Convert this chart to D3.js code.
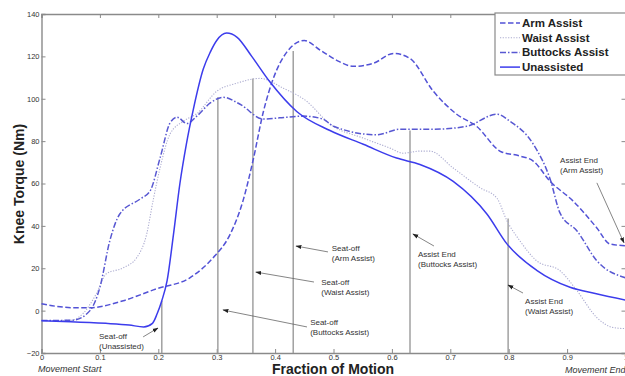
<!DOCTYPE html>
<html>
<head>
<meta charset="utf-8">
<script src="https://d3js.org/d3.v7.min.js"></script>
<style>
  body { margin: 0; background: #fff; }
  svg { display: block; font-family: "Liberation Sans", Arial, sans-serif; }
</style>
</head>
<body>
<svg id="chart" width="625" height="376"></svg>
<script>
// fraction of motion / knee torque (Nm)
let unassistedX = [0, 0.05, 0.11, 0.15, 0.175, 0.19, 0.198, 0.206, 0.215, 0.226, 0.237, 0.248, 0.26, 0.277, 0.289, 0.30, 0.317, 0.335, 0.36, 0.391, 0.437, 0.494, 0.551, 0.608, 0.648, 0.705, 0.763, 0.797, 0.848, 0.905, 0.95, 1.0];
let unassistedY = [-4.8, -5.2, -6, -6.8, -7.7, -6, -1.5, 4.7, 14, 36, 60, 78.5, 95, 114, 122, 127.5, 131, 129, 120, 108, 94, 85, 78.5, 72, 69, 61, 45.5, 31.5, 19, 11, 8, 5];

let armX = [0, 0.054, 0.083, 0.14, 0.197, 0.254, 0.294, 0.323, 0.345, 0.362, 0.38, 0.397, 0.42, 0.45, 0.477, 0.51, 0.534, 0.568, 0.603, 0.631, 0.671, 0.711, 0.745, 0.787, 0.819, 0.842, 0.871, 0.91, 0.951, 0.973, 1.0];
let armY = [3.2, 1.4, 1.4, 4.7, 10.3, 15.5, 25, 36, 51.8, 70.6, 94, 109.6, 122, 127.5, 123, 117.5, 115.3, 116.7, 121.4, 119, 103.5, 92.7, 87, 75, 73, 70.6, 61, 51.8, 39, 31.5, 30.6];

let waistX = [0, 0.05, 0.071, 0.094, 0.111, 0.14, 0.163, 0.18, 0.191, 0.203, 0.22, 0.243, 0.266, 0.3, 0.334, 0.374, 0.414, 0.454, 0.494, 0.551, 0.597, 0.619, 0.648, 0.665, 0.705, 0.751, 0.78, 0.797, 0.819, 0.848, 0.888, 0.917, 0.951, 0.979, 1.0];
let waistY = [-4.7, -4.6, -1.4, 8, 17.4, 20.2, 25, 36, 51.8, 67.3, 83.3, 89.4, 93, 103.5, 107.3, 109.6, 105, 98.8, 88, 81.4, 76.7, 74.3, 75.3, 75.3, 67.3, 58, 53, 42.4, 33, 23.5, 18.8, 9.4, -3.3, -8, -8.5];

let buttocksX = [0, 0.054, 0.083, 0.1, 0.117, 0.134, 0.169, 0.186, 0.203, 0.22, 0.232, 0.249, 0.266, 0.289, 0.311, 0.34, 0.38, 0.408, 0.448, 0.482, 0.5, 0.574, 0.614, 0.671, 0.728, 0.78, 0.802, 0.842, 0.871, 0.888, 0.917, 0.951, 1.0];
let buttocksY = [-4.7, -4.5, 0, 11, 33, 45.6, 52.7, 56.5, 72, 88.5, 91.3, 88.3, 91.8, 98, 100.7, 97.4, 90.4, 91, 91.8, 90.4, 87, 83, 85.6, 85.6, 87, 92.7, 89.4, 78.6, 62, 46, 37.6, 23.5, 15.5];

let seriesNames = ["Arm Assist", "Waist Assist", "Buttocks Assist", "Unassisted"];

// seat-off / assist-end markers: fraction and torque where the marker meets its curve
let eventX = [0.206, 0.302, 0.362, 0.431, 0.631, 0.799];
let eventTop = [4.5, 100.7, 109.6, 122.5, 85, 43.5];

let xTicks = [0, 0.1, 0.2, 0.3, 0.4, 0.5, 0.6, 0.7, 0.8, 0.9, 1];
let xTickLabels = ["0", "0.1", "0.2", "0.3", "0.4", "0.5", "0.6", "0.7", "0.8", "0.9", "1"];
let yTicks = [-20, 0, 20, 40, 60, 80, 100, 120, 140];

// annotation text: [line1, line2, textX, textY, arrowFromX, arrowFromY, arrowToX, arrowToY] in data units
let notes = [
  ["Seat-off", "(Unassisted)", 0.0985, -13.4, 0.174, -12.4, 0.1995, -8.2],
  ["Seat-off", "(Buttocks Assist)", 0.46, -6.8, 0.4546, -7.7, 0.3108, 0.3],
  ["Seat-off", "(Waist Assist)", 0.479, 12.1, 0.4666, 13.5, 0.367, 18.2],
  ["Seat-off", "(Arm Assist)", 0.497, 28.1, 0.4906, 27.7, 0.4358, 30.5],
  ["Assist End", "(Buttocks Assist)", 0.6447, 25.3, 0.672, 30.5, 0.636, 36.2],
  ["Assist End", "(Waist Assist)", 0.828, 3.1, 0.8245, 8.3, 0.7988, 12.1],
  ["Assist End", "(Arm Assist)", 0.888, 69.7, 0.951, 60.3, 0.9974, 32]
];

let svg = d3.select("#chart");
let x = d3.scaleLinear().domain([0, 1]).range([41.5, 625.5]);
let y = d3.scaleLinear().domain([-20, 140]).range([353, 14]);

let defs = svg.append("defs");
defs.append("marker")
    .attr("id", "head")
    .attr("viewBox", "0 0 10 10")
    .attr("refX", 9).attr("refY", 5)
    .attr("markerWidth", 6).attr("markerHeight", 6)
    .attr("markerUnits", "userSpaceOnUse")
    .attr("orient", "auto")
    .append("path")
    .attr("d", "M0,1.5 L10,5 L0,8.5 Z")
    .attr("fill", "#222");

// axes, MATLAB style with inward ticks
let axisColor = "#8a8a8a";
let gBottom = svg.append("g")
    .attr("transform", "translate(0," + y(-20) + ")")
    .call(d3.axisBottom(x).tickValues(xTicks).tickFormat((d, i) => xTickLabels[i]).tickSize(-4).tickPadding(1.5));
let gTop = svg.append("g")
    .attr("transform", "translate(0," + y(140) + ")")
    .call(d3.axisTop(x).tickValues(xTicks).tickFormat("").tickSize(-4));
let gLeft = svg.append("g")
    .attr("transform", "translate(" + x(0) + ",0)")
    .call(d3.axisLeft(y).tickValues(yTicks).tickSize(-4).tickPadding(2));
let gRight = svg.append("g")
    .attr("transform", "translate(" + x(1) + ",0)")
    .call(d3.axisRight(y).tickValues(yTicks).tickFormat("").tickSize(-4));

[gBottom, gTop, gLeft, gRight].forEach(g => {
  g.select(".domain").attr("stroke", axisColor).attr("stroke-width", 1.4);
  g.selectAll(".tick line").attr("stroke", axisColor).attr("stroke-width", 1);
  g.selectAll("text").attr("fill", "#333").attr("font-size", 7.5);
});

// event marker lines
svg.append("g").selectAll("line")
    .data(eventX)
    .join("line")
    .attr("x1", d => x(d)).attr("x2", d => x(d))
    .attr("y1", y(-20))
    .attr("y2", (d, i) => y(eventTop[i]))
    .attr("stroke", "#9a9a9a")
    .attr("stroke-width", 1.4);

// curves
let series = [
  {name: "Arm Assist", xs: armX, ys: armY, color: "#5252d6", dash: "5.5,2.5", width: 1.5},
  {name: "Waist Assist", xs: waistX, ys: waistY, color: "#acacd0", dash: "1.2,1.5", width: 1.1},
  {name: "Buttocks Assist", xs: buttocksX, ys: buttocksY, color: "#5858d2", dash: "6,2,1.5,2", width: 1.5},
  {name: "Unassisted", xs: unassistedX, ys: unassistedY, color: "#3c3cec", dash: null, width: 1.5}
];

let line = d3.line()
    .x(d => x(d[0]))
    .y(d => y(d[1]))
    .curve(d3.curveMonotoneX);

series.forEach(s => {
  svg.append("path")
      .datum(s.xs.map((v, i) => [v, s.ys[i]]))
      .attr("fill", "none")
      .attr("stroke", s.color)
      .attr("stroke-width", s.width)
      .attr("stroke-dasharray", s.dash)
      .attr("d", line);
});

// annotations
let ann = svg.append("g").attr("font-size", 8).attr("fill", "#333");
notes.forEach(n => {
  let t = ann.append("text").attr("x", x(n[2])).attr("y", y(n[3]));
  t.append("tspan").attr("x", x(n[2])).text(n[0]);
  t.append("tspan").attr("x", x(n[2])).attr("dy", 10).text(n[1]);
  ann.append("line")
      .attr("x1", x(n[4])).attr("y1", y(n[5]))
      .attr("x2", x(n[6])).attr("y2", y(n[7]))
      .attr("stroke", "#666")
      .attr("stroke-width", 0.8)
      .attr("marker-end", "url(#head)");
});

// axis titles
svg.append("text")
    .attr("x", 333).attr("y", 374)
    .attr("text-anchor", "middle")
    .attr("font-size", 14).attr("font-weight", "bold")
    .attr("fill", "#222")
    .text("Fraction of Motion");
svg.append("text")
    .attr("transform", "translate(24,184) rotate(-90)")
    .attr("text-anchor", "middle")
    .attr("font-size", 14).attr("font-weight", "bold")
    .attr("fill", "#222")
    .text("Knee Torque (Nm)");
svg.append("text")
    .attr("x", 38).attr("y", 372)
    .attr("font-size", 9).attr("font-style", "italic")
    .attr("fill", "#333")
    .text("Movement Start");
svg.append("text")
    .attr("x", 565).attr("y", 373)
    .attr("font-size", 9).attr("font-style", "italic")
    .attr("fill", "#333")
    .text("Movement End");

// legend
let legend = svg.append("g");
legend.append("rect")
    .attr("x", 495).attr("y", 13)
    .attr("width", 135).attr("height", 62)
    .attr("fill", "#fff")
    .attr("stroke", axisColor)
    .attr("stroke-width", 1.2);
series.forEach((s, i) => {
  let ly = 23 + i * 14.7;
  legend.append("line")
      .attr("x1", 500).attr("x2", 520)
      .attr("y1", ly).attr("y2", ly)
      .attr("stroke", s.color)
      .attr("stroke-width", s.width)
      .attr("stroke-dasharray", s.dash);
  legend.append("text")
      .attr("x", 522).attr("y", ly + 4)
      .attr("font-size", 11.5).attr("font-weight", "bold")
      .attr("fill", "#222")
      .text(seriesNames[i]);
});
</script>
</body>
</html>
